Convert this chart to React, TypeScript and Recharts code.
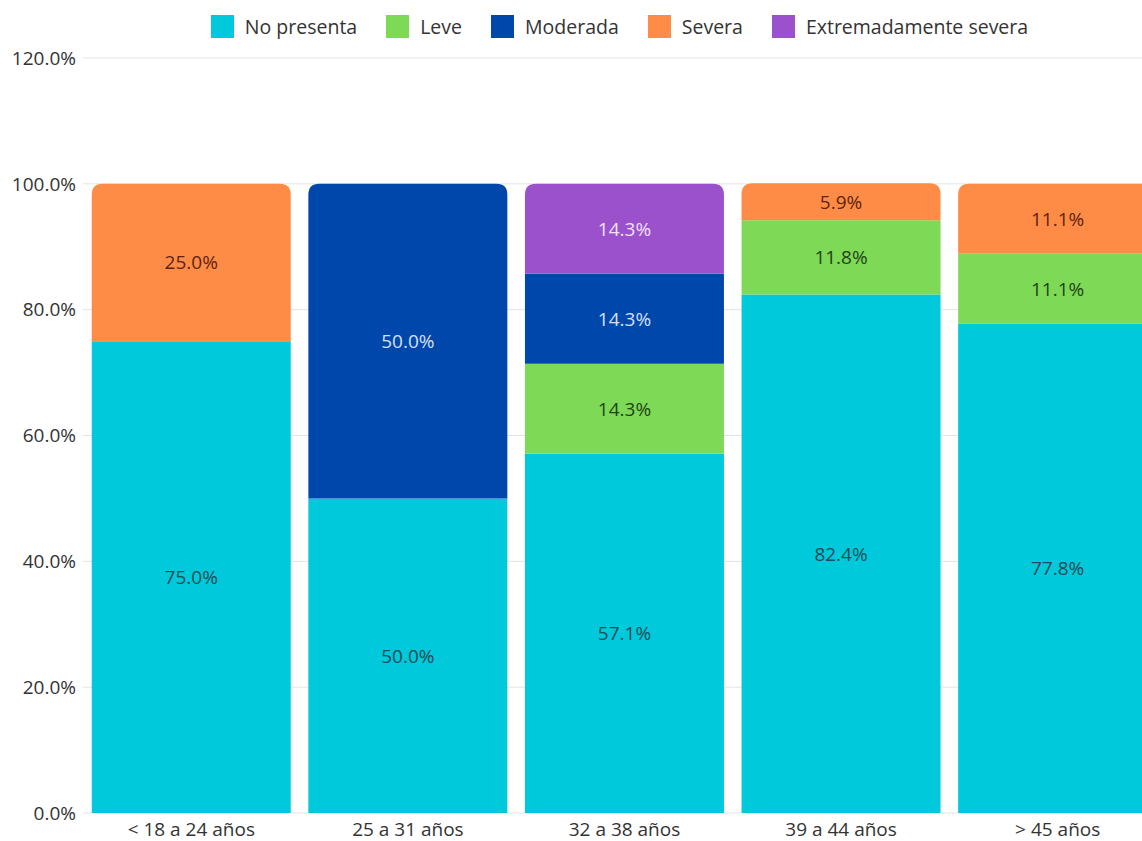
import { BarChart, Bar, XAxis, YAxis, CartesianGrid, Legend, LabelList } from "recharts";

// Categorías de edad y porcentajes por nivel
const categories = ["< 18 a 24 años", "25 a 31 años", "32 a 38 años", "39 a 44 años", "> 45 años"];
const noPresenta = [75.0, 50.0, 57.1, 82.4, 77.8];
const leve = [0, 0, 14.3, 11.8, 11.1];
const moderada = [0, 50.0, 14.3, 0, 0];
const severa = [25.0, 0, 0, 5.9, 11.1];
const extrema = [0, 0, 14.3, 0, 0];
const yTicks = [0, 20, 40, 60, 80, 100, 120];

const series = [
  { key: "noPresenta", name: "No presenta", values: noPresenta, color: "#00C9DB", text: "#1d4c56" },
  { key: "leve", name: "Leve", values: leve, color: "#7ED957", text: "#1f4414" },
  { key: "moderada", name: "Moderada", values: moderada, color: "#0047AB", text: "#d6e0f2" },
  { key: "severa", name: "Severa", values: severa, color: "#FF8C46", text: "#5a2410" },
  { key: "extrema", name: "Extremadamente severa", values: extrema, color: "#9B51CC", text: "#efe2f7" },
];

const data = categories.map((name, i) => {
  const row: Record<string, any> = { name };
  series.forEach((s) => (row[s.key] = s.values[i]));
  return row;
});

const FONT = "'Open Sans', 'Noto Sans', sans-serif";

// redondea solo el segmento superior de cada pila
const makeShape = (sIdx: number) => (props: any) => {
  const { x, y, width, height, fill, payload } = props;
  if (!height || height <= 0) return null;
  const isTop = series.slice(sIdx + 1).every((s) => !payload[s.key]);
  const r = isTop ? Math.min(11, height, width / 2) : 0;
  const d = `M${x},${y + height} L${x},${y + r} Q${x},${y} ${x + r},${y} L${x + width - r},${y} Q${x + width},${y} ${x + width},${y + r} L${x + width},${y + height} Z`;
  return <path d={d} fill={fill} />;
};

const makeLabel = (color: string) => (props: any) => {
  const { x, y, width, height, value } = props;
  if (!value) return null;
  return (
    <text
      x={x + width / 2}
      y={y + height / 2}
      textAnchor="middle"
      dominantBaseline="central"
      fill={color}
      fontSize={19}
      fontFamily={FONT}
    >
      {`${Number(value).toFixed(1)}%`}
    </text>
  );
};

const renderLegend = () => (
  <div style={{ display: "flex", justifyContent: "center", fontFamily: FONT, fontSize: 19.5, color: "#333" }}>
    {series.map((s) => (
      <div key={s.key} style={{ display: "flex", alignItems: "center", marginRight: 29 }}>
        <span style={{ width: 23, height: 23, background: s.color, display: "inline-block", marginRight: 11 }} />
        <span>{s.name}</span>
      </div>
    ))}
  </div>
);

export default function App() {
  return (
    <div style={{ position: "absolute", top: 0, left: 0, width: 1142, height: 841, overflow: "hidden", background: "#fff" }}>
      <BarChart
        width={1166}
        height={841}
        data={data}
        margin={{ top: 58, right: 0, left: 0, bottom: 0 }}
        barCategoryGap={8.75}
      >
        <CartesianGrid vertical={false} stroke="#e3e3e3" />
        <XAxis
          dataKey="name"
          height={28}
          axisLine={false}
          tickLine={false}
          tickSize={0}
          tickMargin={10}
          tick={{ fill: "#333", fontSize: 19, fontFamily: FONT }}
          interval={0}
        />
        <YAxis
          width={83}
          domain={[0, 120]}
          ticks={yTicks}
          axisLine={false}
          tickLine={false}
          tickSize={0}
          tickMargin={7}
          tickFormatter={(v: number) => `${v.toFixed(1)}%`}
          tick={{ fill: "#333", fontSize: 19, fontFamily: FONT }}
        />
        <Legend
          layout="horizontal"
          verticalAlign="middle"
          align="center"
          content={renderLegend}
          wrapperStyle={{ top: 13, left: 0, width: 1268 }}
        />
        {series.map((s, i) => (
          <Bar
            key={s.key}
            dataKey={s.key}
            name={s.name}
            stackId="a"
            fill={s.color}
            shape={makeShape(i)}
            isAnimationActive={false}
          >
            <LabelList dataKey={s.key} content={makeLabel(s.text)} />
          </Bar>
        ))}
      </BarChart>
    </div>
  );
}
